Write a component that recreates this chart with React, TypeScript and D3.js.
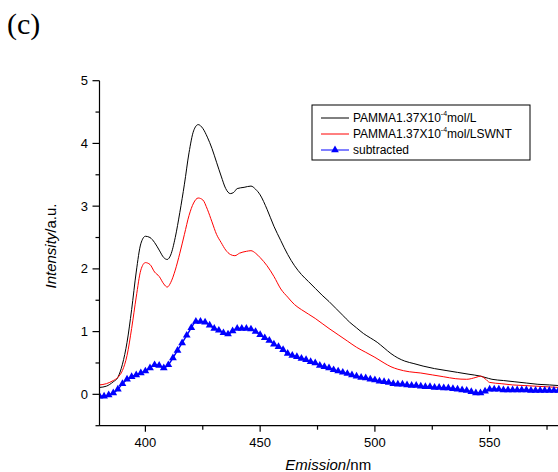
import React from 'react';
import * as d3 from 'd3';

// PAMMA 1.37x10^-4 mol/L (black)
const blackX = [380, 383, 386, 388, 390, 392, 394, 396, 398, 400, 402, 404, 406, 408, 409.5, 411, 413, 415, 417, 419, 421, 423, 425, 427, 429, 431, 433, 435, 437, 438.5, 440, 443, 446, 448, 450, 453, 456, 459, 462, 465, 468, 471, 474, 477, 480, 483, 486, 489, 492, 495, 498, 501, 504, 507, 510, 513, 517, 521, 526, 531, 536, 541, 546, 548, 551, 556, 561, 566, 571, 576, 580];
const blackY = [0.11, 0.13, 0.2, 0.27, 0.48, 0.83, 1.35, 1.95, 2.4, 2.52, 2.5, 2.42, 2.3, 2.18, 2.15, 2.22, 2.5, 2.9, 3.35, 3.85, 4.2, 4.3, 4.24, 4.1, 3.92, 3.7, 3.48, 3.28, 3.2, 3.22, 3.28, 3.3, 3.32, 3.27, 3.18, 2.95, 2.68, 2.45, 2.23, 2.05, 1.91, 1.8, 1.69, 1.58, 1.48, 1.37, 1.26, 1.15, 1.06, 0.97, 0.9, 0.83, 0.74, 0.65, 0.58, 0.53, 0.49, 0.45, 0.41, 0.38, 0.35, 0.32, 0.29, 0.27, 0.24, 0.22, 0.2, 0.18, 0.16, 0.15, 0.14];

// PAMMA 1.37x10^-4 mol/L + SWNT (red)
const redX = [380, 383, 386, 388, 390, 392, 394, 396, 398, 400, 402, 404, 406, 408, 409.5, 411, 413, 415, 417, 419, 421, 423, 425, 427, 429, 431, 433, 435, 437, 439, 441, 444, 446, 448, 450, 453, 456, 459, 462, 465, 468, 471, 474, 477, 480, 484, 488, 492, 496, 500, 504, 507, 510, 515, 520, 525, 530, 535, 540, 544, 546, 548, 550, 555, 560, 565, 570, 575, 580];
const redY = [0.15, 0.17, 0.22, 0.27, 0.38, 0.62, 1.05, 1.55, 1.98, 2.1, 2.07, 1.95, 1.88, 1.76, 1.71, 1.78, 1.98, 2.25, 2.55, 2.85, 3.05, 3.13, 3.1, 2.95, 2.75, 2.55, 2.42, 2.3, 2.23, 2.21, 2.25, 2.28, 2.29, 2.25, 2.18, 2.05, 1.88, 1.68, 1.55, 1.43, 1.35, 1.28, 1.21, 1.13, 1.05, 0.95, 0.85, 0.75, 0.67, 0.59, 0.5, 0.44, 0.4, 0.36, 0.34, 0.31, 0.28, 0.25, 0.24, 0.27, 0.29, 0.25, 0.19, 0.17, 0.15, 0.14, 0.13, 0.12, 0.11];

// subtracted (blue triangles), every 2 nm from 380
const blueStart = 380;
const blueStep = 2;
const blueY = [-0.03, -0.03, -0.01, 0.02, 0.08, 0.17, 0.24, 0.28, 0.31, 0.34, 0.37, 0.42, 0.47, 0.46, 0.42, 0.47, 0.58, 0.7, 0.82, 0.94, 1.06, 1.16, 1.16, 1.15, 1.1, 1.05, 1.02, 0.98, 0.96, 1.01, 1.05, 1.05, 1.05, 1.04, 1.0, 0.95, 0.9, 0.86, 0.8, 0.76, 0.71, 0.65, 0.62, 0.6, 0.57, 0.55, 0.52, 0.5, 0.46, 0.44, 0.42, 0.39, 0.37, 0.35, 0.33, 0.31, 0.29, 0.27, 0.26, 0.24, 0.23, 0.21, 0.2, 0.19, 0.17, 0.16, 0.16, 0.15, 0.14, 0.14, 0.13, 0.12, 0.12, 0.11, 0.11, 0.1, 0.1, 0.09, 0.08, 0.07, 0.06, 0.04, 0.02, 0.02, 0.05, 0.08, 0.08, 0.08, 0.07, 0.07, 0.07, 0.07, 0.07, 0.07, 0.06, 0.06, 0.06, 0.06, 0.06, 0.06, 0.06];

const xTicks = [400, 450, 500, 550];
const xMinor = [425, 475, 525, 575];
const yTicks = [0, 1, 2, 3, 4, 5];
const yMinor = [-0.5, 0.5, 1.5, 2.5, 3.5, 4.5];

const legendItems = [
  { pre: 'PAMMA1.37X10', sup: '-4', post: 'mol/L', color: '#000', marker: false },
  { pre: 'PAMMA1.37X10', sup: '-4', post: 'mol/LSWNT', color: '#ff0000', marker: false },
  { pre: 'subtracted', sup: '', post: '', color: '#0000ff', marker: true },
];

const W = 558;
const H = 472;
const FONT = 'Arial, "Liberation Sans", sans-serif';

export default function App() {
  const x = d3.scaleLinear().domain([380, 580]).range([99.5, 558.5]);
  const y = d3.scaleLinear().domain([-0.5, 5]).range([425.7, 80.7]);

  const line = d3.line<[number, number]>()
    .x(d => x(d[0]))
    .y(d => y(d[1]))
    .curve(d3.curveMonotoneX);

  const black = blackX.map((v, i) => [v, blackY[i]] as [number, number]);
  const red = redX.map((v, i) => [v, redY[i]] as [number, number]);
  const blue = blueY.map((v, i) => [blueStart + i * blueStep, v] as [number, number]);

  const tri = d3.symbol().type(d3.symbolTriangle).size(26)() || '';
  const triLegend = d3.symbol().type(d3.symbolTriangle).size(26)() || '';

  const x0 = x.range()[0];
  const yb = y.range()[0];

  return (
    <svg width={W} height={H} style={{ position: 'absolute', left: 0, top: 0, background: '#fff' }}>
      <text x={7} y={34} fontFamily='"Liberation Serif", "Times New Roman", serif' fontSize={30}>(c)</text>

      <defs>
        <clipPath id="plot">
          <rect x={x0} y={y.range()[1] - 5} width={W - x0} height={yb - y.range()[1] + 5} />
        </clipPath>
      </defs>

      <g clipPath="url(#plot)">
        <path d={line(black) || ''} fill="none" stroke="#000" strokeWidth={1} />
        <path d={line(red) || ''} fill="none" stroke="#ff0000" strokeWidth={1} />
        <path d={line(blue) || ''} fill="none" stroke="#0000ff" strokeWidth={1.5} />
        {blue.map((d, i) => (
          <path key={i} d={tri} transform={`translate(${x(d[0])},${y(d[1])})`} fill="#0000ff" />
        ))}
      </g>

      {/* axes */}
      <g stroke="#000" strokeWidth={1.2}>
        <line x1={x0} x2={x0} y1={y(5)} y2={yb} />
        <line x1={x0} x2={W} y1={yb} y2={yb} />
        {yTicks.map(t => <line key={'y' + t} x1={x0 - 7} x2={x0} y1={y(t)} y2={y(t)} />)}
        {yMinor.map(t => <line key={'ym' + t} x1={x0 - 4} x2={x0} y1={y(t)} y2={y(t)} />)}
        {xTicks.map(t => <line key={'x' + t} x1={x(t)} x2={x(t)} y1={yb} y2={yb + 6} />)}
        {xMinor.map(t => <line key={'xm' + t} x1={x(t)} x2={x(t)} y1={yb} y2={yb + 4} />)}
      </g>
      <g fontFamily={FONT} fontSize={13} fill="#000">
        {yTicks.map(t => (
          <text key={t} x={88} y={y(t)} textAnchor="end" dominantBaseline="central">{t}</text>
        ))}
        {xTicks.map(t => (
          <text key={t} x={x(t)} y={447} textAnchor="middle">{t}</text>
        ))}
      </g>
      <text x={(x0 + 557) / 2} y={470} textAnchor="middle" fontFamily={FONT} fontSize={15}>
        <tspan fontStyle="italic">Emission</tspan>/nm
      </text>
      <text transform="translate(56,246) rotate(-90)" textAnchor="middle" fontFamily={FONT} fontSize={15}>
        <tspan fontStyle="italic">Intensity</tspan>/a.u.
      </text>

      {/* legend */}
      <rect x={312} y={105} width={218} height={55} fill="#fff" stroke="#000" strokeWidth={1} />
      {legendItems.map((d, i) => {
        const ly = 118 + i * 16;
        return (
          <g key={i}>
            <line x1={321} x2={349} y1={ly} y2={ly} stroke={d.color} strokeWidth={1} />
            {d.marker && <path d={triLegend} transform={`translate(335,${ly})`} fill={d.color} />}
            <text x={353} y={ly} dominantBaseline="central" fontFamily={FONT} fontSize={12}>
              {d.pre}
              {d.sup && <tspan fontSize={7} dy={-5}>{d.sup}</tspan>}
              {d.post && <tspan dy={d.sup ? 5 : 0}>{d.post}</tspan>}
            </text>
          </g>
        );
      })}
    </svg>
  );
}
